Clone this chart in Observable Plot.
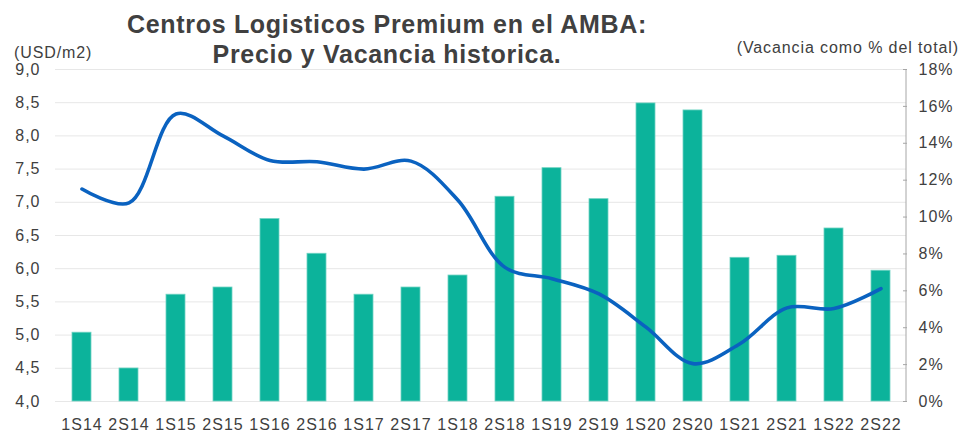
<!DOCTYPE html>
<html>
<head>
<meta charset="utf-8">
<script src="https://cdn.jsdelivr.net/npm/d3@7"></script>
<script src="https://cdn.jsdelivr.net/npm/@observablehq/plot@0.6"></script>
<style>
  html, body { margin: 0; padding: 0; background: #fff; }
  #wrap { position: relative; width: 965px; height: 432px; font-family: "Liberation Sans", Arial, sans-serif; color: #404040; }
  .ov { position: absolute; white-space: nowrap; }
  #title { left: 0; width: 774px; top: 9px; text-align: center; font-weight: bold; font-size: 25px; line-height: 30px; letter-spacing: 0.7px; }
  #ylab { left: 14px; top: 45px; font-size: 16px; line-height: 16px; letter-spacing: 0.9px; }
  #y2lab { right: 6px; top: 40px; font-size: 16px; line-height: 16px; letter-spacing: 0.9px; }
</style>
</head>
<body>
<div id="wrap">
  <div id="chart"></div>
  <div class="ov" id="title">Centros Logisticos Premium en el AMBA:<br>Precio y Vacancia historica.</div>
  <div class="ov" id="ylab">(USD/m2)</div>
  <div class="ov" id="y2lab">(Vacancia como % del total)</div>
</div>
<script>
const categories = ["1S14","2S14","1S15","2S15","1S16","2S16","1S17","2S17","1S18","2S18","1S19","2S19","1S20","2S20","1S21","2S21","1S22","2S22"];
const vacancy = [3.73,1.79,5.79,6.18,9.89,8.01,5.79,6.18,6.83,11.1,12.65,10.97,16.16,15.78,7.79,7.9,9.38,7.09];
const price = [7.20,6.99,8.33,8.00,7.63,7.61,7.50,7.62,7.03,6.02,5.85,5.62,5.12,4.57,4.87,5.41,5.40,5.70];
const priceTicks = [4.0,4.5,5.0,5.5,6.0,6.5,7.0,7.5,8.0,8.5,9.0];
const priceTickLabels = ["4,0","4,5","5,0","5,5","6,0","6,5","7,0","7,5","8,0","8,5","9,0"];
const vacTicks = [0,2,4,6,8,10,12,14,16,18];
const vacTickLabels = ["0%","2%","4%","6%","8%","10%","12%","14%","16%","18%"];

const priceMin = 4, priceMax = 9, vacMax = 18;
const toY = p => (p - priceMin) / (priceMax - priceMin) * vacMax;

const data = categories.map((c, i) => ({cat: c, vac: vacancy[i], price: price[i]}));
const leftTicks = priceTicks.map(toY);

const rightAxisLine = (index, scales, values, dims) => {
  const x = dims.width - dims.marginRight;
  return d3.create("svg:line")
    .attr("x1", x).attr("x2", x)
    .attr("y1", scales.y(vacMax)).attr("y2", scales.y(0))
    .attr("stroke", "#a6a6a6").attr("stroke-width", 1)
    .node();
};

const chart = Plot.plot({
  width: 965,
  height: 432,
  marginTop: 69,
  marginBottom: 31,
  marginLeft: 55,
  marginRight: 59,
  style: {fontFamily: "'Liberation Sans', Arial, sans-serif", fontSize: "16px", color: "#404040", background: "white", overflow: "visible"},
  x: {domain: categories, paddingInner: 0.6, paddingOuter: 0.3, label: null},
  y: {domain: [0, vacMax], label: null},
  marks: [
    Plot.gridY(leftTicks, {stroke: "#e7e7e7", strokeOpacity: 1, strokeWidth: 1}),
    Plot.barY(data, {x: "cat", y: "vac", fill: "#0cb39b", stroke: "#6fd3c2", strokeWidth: 0.8}),
    Plot.line(data, {x: "cat", y: d => toY(d.price), stroke: "#0a62c0", strokeWidth: 3.6, curve: "catmull-rom", strokeLinecap: "round"}),
    Plot.axisY(leftTicks, {anchor: "left", tickSize: 0, tickPadding: 15, label: null,
      tickFormat: d => priceTickLabels[leftTicks.indexOf(d)], fill: "#404040", style: "letter-spacing:1px"}),
    Plot.axisY(vacTicks, {anchor: "right", tickSize: 4, dx: -4, tickPadding: 12, label: null, stroke: "#a6a6a6",
      tickFormat: d => vacTickLabels[vacTicks.indexOf(d)], fill: "#404040"}),
    rightAxisLine,
    Plot.axisX({tickSize: 0, tickPadding: 17, label: null, fill: "#404040"})
  ]
});
chart.querySelectorAll("text").forEach(t => t.style.letterSpacing = "1px");
document.getElementById("chart").appendChild(chart);
</script>
</body>
</html>
